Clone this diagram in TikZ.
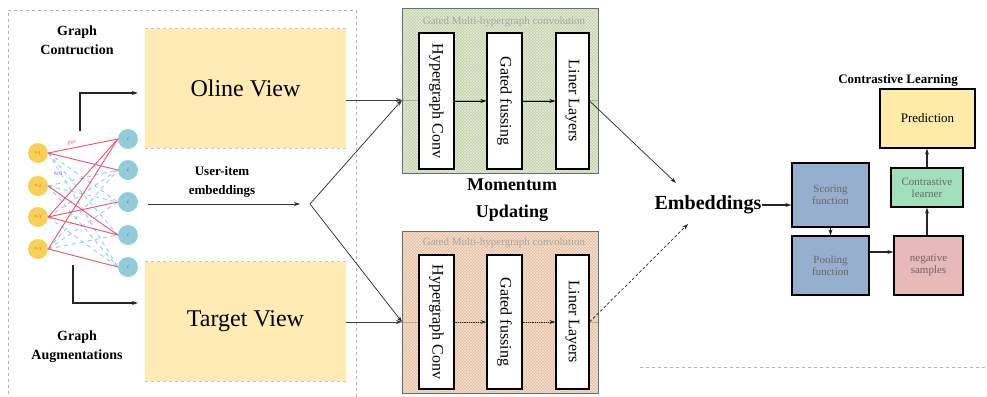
\documentclass[tikz,border=0pt]{standalone}
\usepackage{fontspec}
\setmainfont{Liberation Serif}
\usetikzlibrary{arrows.meta,patterns}
\definecolor{viewyel}{HTML}{FFEBB3}
\definecolor{grnbox}{HTML}{C3CFA5}
\definecolor{orbox}{HTML}{E6BC9A}
\definecolor{bluebox}{HTML}{97AFCF}
\definecolor{learnbox}{HTML}{A2E0BA}
\definecolor{negbox}{HTML}{E8B9B9}
\definecolor{predbox}{HTML}{FFEBA8}
\definecolor{unode}{HTML}{F9D055}
\definecolor{inode}{HTML}{92CCD8}
\definecolor{redge}{HTML}{F0506A}
\definecolor{bedge}{HTML}{7FCBEA}
\begin{document}
\begin{tikzpicture}[x=1pt,y=-1pt,
  lbl/.style={font=\bfseries\fontsize{14}{19}\selectfont, align=center, inner sep=0},
  view/.style={fill=viewyel, minimum width=201pt, minimum height=119pt, inner sep=0, font=\fontsize{24}{28}\selectfont},
  wbox/.style={draw=black, line width=1.2pt, fill=white, minimum width=136pt, inner sep=0, rotate=-90, font=\fontsize{16}{18}\selectfont},
  gcbox/.style={draw=gray!70!cyan!60!black, line width=0.8pt, minimum width=195pt, inner sep=0},
  gtitle/.style={font=\fontsize{11}{12}\selectfont, text=gray!70},
  rbox/.style={draw=black, line width=1.3pt, inner sep=1pt, align=center, font=\fontsize{11}{12}\selectfont, text=gray!80!black},
  unodes/.style={circle, fill=unode, minimum size=20pt, inner sep=0, font=\fontsize{5}{5}\selectfont, text=brown},
  inodes/.style={circle, fill=inode, minimum size=20pt, inner sep=0, font=\fontsize{5}{5}\selectfont, text=gray!60!black},
  pe/.style={redge, line width=0.9pt},
  ne/.style={bedge, line width=0.8pt, dash pattern=on 4pt off 4pt},
  arr/.style={-{Stealth[length=6pt,width=4pt]}},
  thk/.style={line width=1.6pt, gray!30!black},
]
\useasboundingbox (0,0) rectangle (987,396);
% outer dashed frame
\draw[gray!60, dashed, line width=0.7pt] (8,400) -- (8,10) -- (356,10) -- (356,400);

% views
\node[view] (online) at (245.5,88.5) {Oline View};
\node[view] (target) at (245.5,321.5) {Target View};
\foreach \n in {online,target}{
  \draw[gray!45, dashed, line width=0.7pt] (\n.north west) -- (\n.north east);
  \draw[gray!45, dashed, line width=0.7pt] (\n.south west) -- (\n.south east);
}

\node[lbl] (gc) at (77,40) {Graph\\Contruction};
\node[lbl] (ga) at (77,347) {Graph\\Augmentations};

% bipartite graph
\node[unodes] (u1) at (38,153) {$u_1$};
\node[unodes] (u2) at (38,186) {$u_2$};
\node[unodes] (u3) at (38,217) {$u_3$};
\node[unodes] (u4) at (38,249) {$u_4$};
\node[inodes] (i1) at (128,139) {$i$};
\node[inodes] (i2) at (128,170) {$i$};
\node[inodes] (i3) at (128,202) {$i$};
\node[inodes] (i4) at (128,235) {$i$};
\node[inodes] (i5) at (128,267) {$i$};
\foreach \a/\b in {u1/i3,u1/i4,u2/i2,u2/i3,u2/i5,u3/i2,u3/i5,u4/i2,u4/i3,u4/i4,u1/i5}{
  \draw[ne] (\a.east) -- (\b.west);
}
\foreach \a/\b in {u1/i1,u1/i2,u2/i4,u3/i1,u3/i3,u3/i4,u4/i1,u4/i5}{
  \draw[pe] (\a.east) -- (\b.west);
}
\node[font=\itshape\fontsize{6}{6}\selectfont, text=redge, rotate=15] (pos) at (72,143) {pos};
\node[font=\itshape\fontsize{6}{6}\selectfont, text=blue!60, rotate=15] (neg) at (58,174) {neg};

% L-shaped arrows
\coordinate (la) at (80,131);
\coordinate (lb) at (73,265);
\draw[thk, arr] (la) -- (la |- 0,93) -- ([xshift=-7pt]online.west |- 0,93);
\draw[thk, arr] (lb) -- (lb |- 0,303) -- ([xshift=-7pt]target.west |- 0,303);

% user-item embeddings
\node[lbl, font=\bfseries\fontsize{13}{19}\selectfont] (uie) at (222,182) {User-item\\embeddings};
\coordinate (uiS) at (148,204);
\coordinate (uiE) at (300,204);
\coordinate (split) at (310,204);
\draw[arr, gray!40!black, line width=0.6pt] (uiS) -- (uiE);

% gated conv boxes
\node[gcbox, minimum height=164pt] (gU) at (500.5,91) {};
\fill[grnbox] (gU.north west) rectangle (gU.south east);
\fill[pattern=crosshatch, pattern color=white!60!grnbox] (gU.north west) rectangle (gU.south east);
\draw[gray!70!cyan!60!black, line width=0.8pt] (gU.north west) rectangle (gU.south east);
\node[gtitle] (gUt) at (504,22) {Gated Multi-hypergraph convolution};

\node[gcbox, minimum height=161pt] (gL) at (500.5,312.5) {};
\fill[orbox] (gL.north west) rectangle (gL.south east);
\fill[pattern=crosshatch, pattern color=white!60!orbox] (gL.north west) rectangle (gL.south east);
\draw[gray!70!cyan!60!black, line width=0.8pt] (gL.north west) rectangle (gL.south east);
\node[gtitle] (gLt) at (504,243) {Gated Multi-hypergraph convolution};

\draw[green!20!gray!70, line width=0.4pt] (403,100) -- (598,100);
\draw[orange!40!gray!70, line width=0.4pt] (403,322) -- (598,322);

\node[wbox, minimum height=35pt] (h1) at (436.5,101) {Hypergraph Conv};
\node[wbox, minimum height=35pt] (h2) at (504.5,101) {Gated fussing};
\node[wbox, minimum height=33pt] (h3) at (572.5,101) {Liner Layers};
\node[wbox, minimum height=35pt, minimum width=134pt] (l1) at (436.5,322) {Hypergraph Conv};
\node[wbox, minimum height=35pt, minimum width=134pt] (l2) at (504.5,322) {Gated fussing};
\node[wbox, minimum height=33pt, minimum width=134pt] (l3) at (572.5,322) {Liner Layers};

\draw[arr, black, line width=0.8pt] (h1.north) -- (h2.south);
\draw[arr, black, line width=0.8pt] (h2.north) -- (h3.south);
\draw[arr, gray!30!black, line width=0.8pt, densely dotted] (l1.north) -- (l2.south);
\draw[arr, gray!30!black, line width=0.8pt, densely dotted] (l2.north) -- (l3.south);

\coordinate (gin) at (402,100);
\coordinate (gin2) at (402,322);
\draw[arr, gray!50!black, line width=1pt] (online.east |- gin) -- (gin);
\draw[arr, gray!50!black, line width=0.6pt] (target.east |- gin2) -- (gin2);
\draw[arr, gray!30!black, line width=0.7pt] (split) -- (gin);
\draw[arr, gray!30!black, line width=0.7pt] (split) -- (gin2);

\node[font=\bfseries\fontsize{18}{22}\selectfont, align=center, inner sep=0] (mom) at (512,200) {Momentum\\[5pt]Updating};

% embeddings
\node[font=\bfseries\fontsize{20}{22}\selectfont, inner sep=0] (emb) at (708,205) {Embeddings};
\coordinate (ea) at (676,183);
\coordinate (eb) at (688,224);
\draw[arr, gray!30!black, line width=0.7pt] (h3.north) -- (ea);
\draw[arr, gray!30!black, line width=0.7pt, densely dashed] (l3.north) -- (eb);

% right side
\node[rbox, fill=bluebox, minimum width=77pt, minimum height=64pt] (score) at (830.5,195) {Scoring\\function};
\node[rbox, fill=bluebox, minimum width=77pt, minimum height=59pt] (pool) at (830.5,265.5) {Pooling\\function};
\node[rbox, fill=negbox, minimum width=69pt, minimum height=59pt] (negs) at (928.5,265.5) {negative\\samples};
\node[rbox, fill=learnbox, minimum width=72pt, minimum height=39pt] (learn) at (927,187.5) {Contrastive\\learner};
\node[rbox, fill=predbox, minimum width=95pt, minimum height=59pt, font=\fontsize{13}{14}\selectfont, text=black] (pred) at (927.5,118.5) {Prediction};
\node[font=\bfseries\fontsize{13}{14}\selectfont, inner sep=0] (cl) at (898,80) {Contrastive Learning};

\draw[arr, thk] (emb.east |- 0,205) -- (score.west |- 0,205);
\draw[arr, gray!20!black, line width=0.8pt] (score.south) -- (pool.north);
\coordinate (pn) at (880,252);
\draw[arr, thk] (pn -| pool.east) -- (pn -| negs.west);
\draw[arr, thk] (negs.north -| learn.south) -- (learn.south);
\draw[arr, thk] (learn.north) -- (learn.north |- pred.south);

\draw[gray!60, dashed, line width=0.7pt] (640,367) -- (987,367);
\end{tikzpicture}
\end{document}
